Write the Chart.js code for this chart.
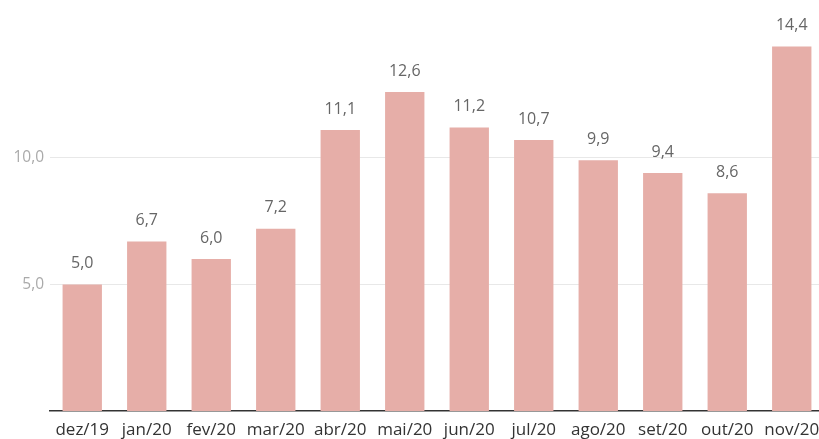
<!DOCTYPE html>
<html>
<head>
<meta charset="utf-8">
<script src="https://cdn.jsdelivr.net/npm/chart.js@4/dist/chart.umd.min.js"></script>
<style>
  html, body { margin: 0; padding: 0; background: #fff; overflow: hidden; }
  #wrap { width: 824px; height: 439px; }
</style>
</head>
<body>
<div id="wrap"><canvas id="chart"></canvas></div>
<script>
var months = ['dez/19', 'jan/20', 'fev/20', 'mar/20', 'abr/20', 'mai/20',
              'jun/20', 'jul/20', 'ago/20', 'set/20', 'out/20', 'nov/20'];
var rates = [5.0, 6.7, 6.0, 7.2, 11.1, 12.6, 11.2, 10.7, 9.9, 9.4, 8.6, 14.4];
var y_ticks = [5, 10];

function fmt(v) {
  return v.toFixed(1).replace('.', ',');
}

// value labels above each bar
var valueLabels = {
  id: 'valueLabels',
  afterDatasetsDraw: function(chart) {
    var ctx = chart.ctx;
    var meta = chart.getDatasetMeta(0);
    ctx.save();
    ctx.font = '16px "Open Sans"';
    ctx.fillStyle = '#666';
    ctx.textAlign = 'center';
    ctx.textBaseline = 'bottom';
    meta.data.forEach(function(bar, i) {
      ctx.fillText(fmt(rates[i]), bar.x, bar.y - 13);
    });
    ctx.restore();
  }
};

Chart.defaults.font.family = '"Open Sans"';

new Chart(document.getElementById('chart'), {
  type: 'bar',
  data: {
    labels: months,
    datasets: [{
      data: rates,
      backgroundColor: '#e6aea8',
      categoryPercentage: 1.0,
      barPercentage: 0.61
    }]
  },
  options: {
    responsive: true,
    maintainAspectRatio: false,
    animation: false,
    layout: { padding: 0 },
    plugins: {
      legend: { display: false },
      tooltip: { enabled: false }
    },
    scales: {
      x: {
        grid: { display: false },
        border: { display: true, color: '#333', width: 1.5 },
        ticks: { color: '#333', font: { size: 17 }, padding: 1, maxRotation: 0 },
        afterFit: function(scale) { scale.height = 28; }
      },
      y: {
        min: 0,
        max: 15.63,
        border: { display: false },
        grid: { color: '#e8e8e8', drawTicks: false },
        ticks: {
          color: '#aaa',
          font: { size: 15.5 },
          padding: 6,
          callback: function(v) { return fmt(v); }
        },
        afterBuildTicks: function(scale) {
          scale.ticks = y_ticks.map(function(v) { return { value: v }; });
        },
        afterFit: function(scale) { scale.width = 50; }
      }
    }
  },
  plugins: [valueLabels]
});
</script>
</body>
</html>
